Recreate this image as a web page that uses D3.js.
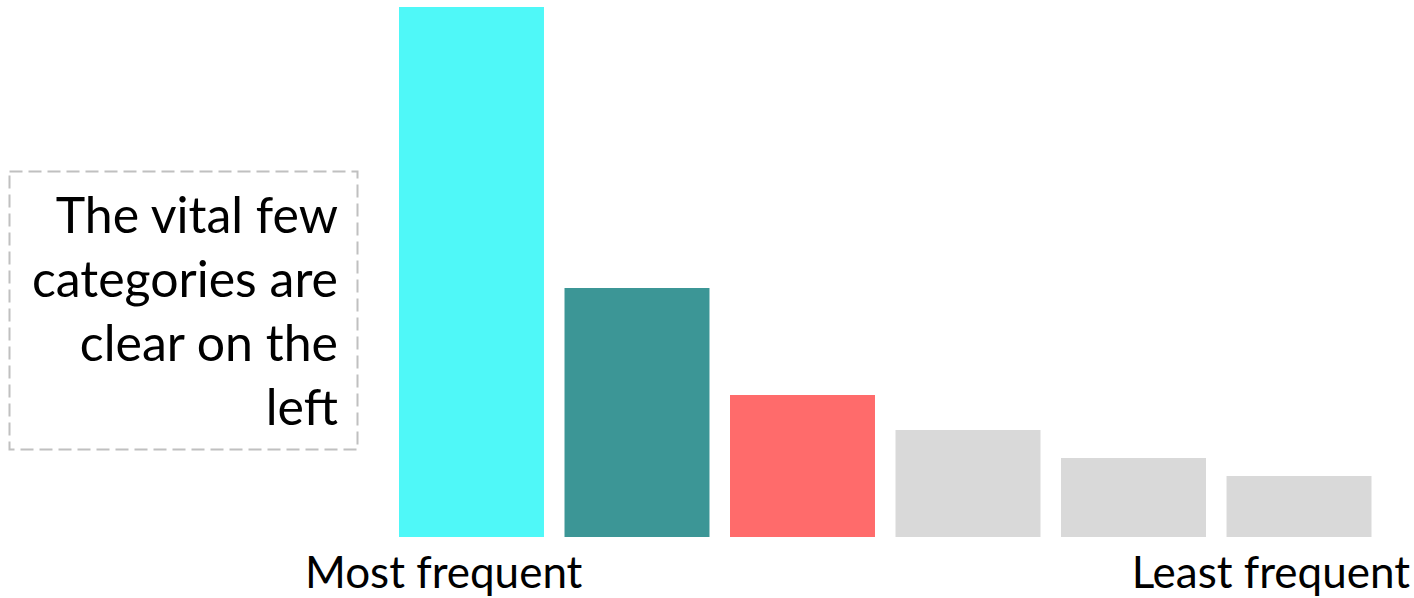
<!DOCTYPE html>
<html>
<head>
<meta charset="utf-8">
<script src="https://cdn.jsdelivr.net/npm/d3@7"></script>
<style>
  body { margin: 0; background: #fff; }
  text { font-family: Lato, "Open Sans", sans-serif; fill: #000; }
</style>
</head>
<body>
<div id="chart"></div>
<script>
  const svgWidth = 1414;
  const svgHeight = 598;

  // data
  const categories = ["A", "B", "C", "D", "E", "F"];
  const counts = [530, 249, 142, 107, 79, 61];
  const barColors = ["#4ff8f8", "#3c9696", "#ff6b6b", "#d9d9d9", "#d9d9d9", "#d9d9d9"];
  const noteLines = ["The vital few", "categories are", "clear on the", "left"];
  const axisLabels = ["Most frequent", "Least frequent"];

  const svg = d3.select("#chart")
    .append("svg")
    .attr("width", svgWidth)
    .attr("height", svgHeight);

  const xScale = d3.scaleBand()
    .domain(categories)
    .range([399, 1371.5])
    .paddingInner(0.124)
    .paddingOuter(0);

  const yScale = d3.scaleLinear()
    .domain([0, d3.max(counts)])
    .range([537, 7]);

  svg.selectAll("rect.bar")
    .data(counts)
    .enter()
    .append("rect")
    .attr("class", "bar")
    .attr("x", (d, i) => xScale(categories[i]))
    .attr("y", d => yScale(d))
    .attr("width", xScale.bandwidth())
    .attr("height", d => yScale(0) - yScale(d))
    .attr("fill", (d, i) => barColors[i]);

  // annotation box
  svg.append("rect")
    .attr("x", 9.5)
    .attr("y", 171.5)
    .attr("width", 348)
    .attr("height", 278)
    .attr("fill", "none")
    .attr("stroke", "#c0c0c0")
    .attr("stroke-width", 2)
    .attr("stroke-dasharray", "13,6");

  svg.selectAll("text.note")
    .data(noteLines)
    .enter()
    .append("text")
    .attr("class", "note")
    .attr("x", 338)
    .attr("y", (d, i) => 233 + i * 64)
    .attr("text-anchor", "end")
    .style("font-size", "50px")
    .text(d => d);

  // bottom labels
  svg.append("text")
    .attr("x", 305)
    .attr("y", 588)
    .style("font-size", "44px")
    .text(axisLabels[0]);

  svg.append("text")
    .attr("x", 1410)
    .attr("y", 588)
    .attr("text-anchor", "end")
    .style("font-size", "44px")
    .text(axisLabels[1]);
</script>
</body>
</html>
